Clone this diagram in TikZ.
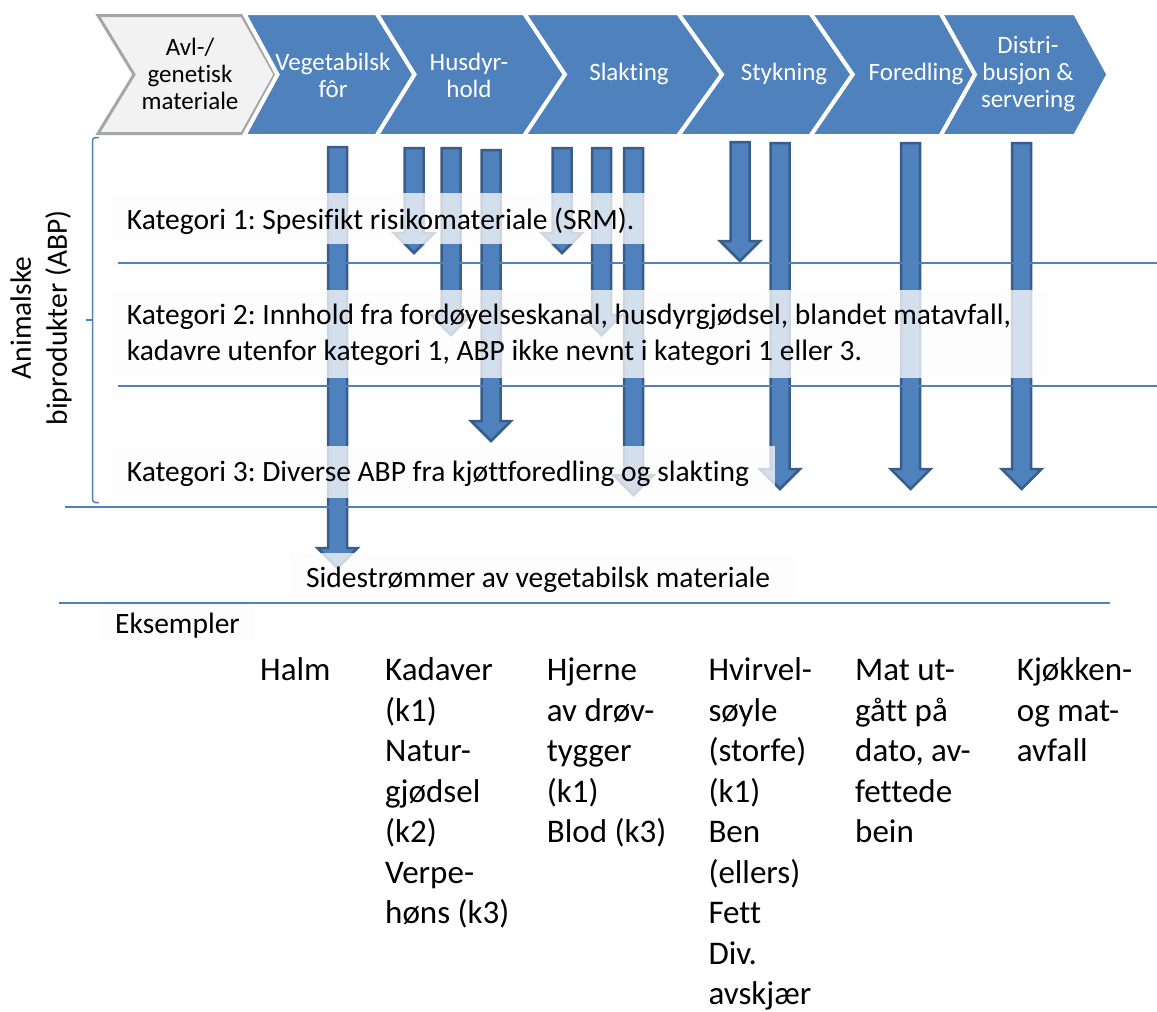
\documentclass[tikz,border=0pt]{standalone}
\usepackage{fontspec}
\setmainfont{Carlito}[Ligatures=NoCommon]
\frenchspacing
\definecolor{abpblue}{HTML}{4F81BD}
\definecolor{abpdark}{HTML}{385D8A}
\definecolor{chevgray}{HTML}{F2F2F2}
\definecolor{chevline}{HTML}{A6A6A6}
\definecolor{bandgray}{HTML}{FCFCFC}
\newcommand\chevfont{\fontsize{25}{27}\selectfont}
\newcommand\catfont{\fontsize{29.5}{36}\selectfont}
\newcommand\exfont{\fontsize{33}{40.5}\selectfont}
% blue chevron: left seam x, notch x, right seam x, tip x
\newcommand\bluechev[4]{%
  \path[chev] (#1,13) -- (#3,13) -- (#4,74.5) -- (#3,136) -- (#1,136) -- (#2,74.5) -- cycle;}
% block arrow pointing down: name, centre x, top y, tip y
\newcommand\bArrow[4]{%
  \path[barrow] (#2-9.5,#3) -- (#2+9.5,#3) -- (#2+9.5,#4-20) -- (#2+20,#4-20)
    -- (#2,#4) -- (#2-20,#4-20) -- (#2-9.5,#4-20) -- cycle;
  \coordinate (#1) at (#2,#4);}
\begin{document}
\begin{tikzpicture}[x=1pt,y=-1pt,
  chev/.style={fill=abpblue, draw=white, line width=4pt, line join=miter},
  grchev/.style={fill=chevgray, draw=chevline, line width=3pt, line join=miter},
  chevtxt/.style={text=white, font=\chevfont, align=center, inner sep=0},
  grtxt/.style={text=black, font=\chevfont, align=center, inner sep=0},
  barrow/.style={fill=abpblue, draw=abpdark, line width=2.5pt, line join=miter},
  band/.style={fill=bandgray, fill opacity=0.77, draw=none},
  sepline/.style={draw=abpblue, line width=2pt},
  brace/.style={draw=abpblue, line width=1.5pt, rounded corners=3pt},
  cattxt/.style={font=\catfont, anchor=base west, inner sep=0, align=left},
  extxt/.style={font=\exfont, anchor=base west, inner sep=0, align=left}]
\useasboundingbox (0,0) rectangle (1157,1012);

% value chain
\path[grchev] (98,15.5) -- (242,15.5) -- (275,74.5) -- (242,133.5) -- (98,133.5) -- (134,74.5) -- cycle;
\bluechev{244}{277.5}{376.5}{414.5}
\bluechev{376.5}{414.5}{524}{565}
\bluechev{524}{565}{678}{722}
\bluechev{678}{722}{810.4}{852.7}
\bluechev{810.4}{852.7}{940.5}{975}
\bluechev{940.5}{975}{1075}{1108.5}
\node[grtxt] (avl) at (190,74) {Avl-/\\genetisk\\materiale};
\node[chevtxt] (veg) at (333,75) {Vegetabilsk\\fôr};
\node[chevtxt] (hus) at (469,75) {Husdyr-\\hold};
\node[chevtxt] (sla) at (629,74) {Slakting};
\node[chevtxt] (sty) at (784,74) {Stykning};
\node[chevtxt] (for) at (916,74) {Foredling};
\node[chevtxt] (dis) at (1028,74) {Distri-\\busjon \&\\servering};

% by-product flows
\bArrow{t1}{337.5}{147}{568}
\bArrow{t2}{414}{148}{253}
\bArrow{t3}{451}{148}{335}
\bArrow{t4}{491}{150}{441}
\bArrow{t5}{562}{148}{253}
\bArrow{t6}{601.5}{148}{335}
\bArrow{t7}{633.5}{148}{495}
\bArrow{t8}{740}{142}{261}
\bArrow{t9}{780}{143}{489}
\bArrow{t10}{910.7}{143}{489}
\bArrow{t11}{1021.7}{143}{489}

% category separators
\draw[sepline] (118,263) -- (1157,263);
\draw[sepline] (118,386) -- (1157,386);
\draw[sepline] (65,507) -- (1157,507);
\draw[sepline] (58.7,602.5) -- (1110,602.5);

% bracket and its label
\draw[brace] (99,137.5) -- (92.5,137.5) -- (92.5,502.5) -- (99,502.5);
\draw[brace] (92.5,320) -- (86,320);
\node[font=\catfont, align=center, inner sep=0, rotate=90] (abp) at (41,318)
  {Animalske\\biprodukter (ABP)};

% text bands
\fill[band] (110.6,192.7) rectangle (658,244.3);
\fill[band] (110.6,290) rectangle (1049,377.7);
\fill[band] (110.6,446) rectangle (775,498);
\fill[band] (291,553) rectangle (795,597);
\fill[band] (99.5,603.5) rectangle (255,641);

% band texts (a multi-line node sits on the baseline of its last line)
\node[cattxt] (k1) at (126.7,229) {Kategori 1: Spesifikt risikomateriale (SRM).};
\node[cattxt] (k2) at (126.7,360) {Kategori 2: Innhold fra fordøyelseskanal, husdyrgjødsel, blandet matavfall,\\kadavre utenfor kategori 1, ABP ikke nevnt i kategori 1 eller 3.};
\node[cattxt] (k3) at (126.7,481.7) {Kategori 3: Diverse ABP fra kjøttforedling og slakting};
\node[cattxt] (side) at (306,587) {Sidestrømmer av vegetabilsk materiale};
\node[cattxt] (eks) at (115,633) {Eksempler};

% examples per stage
\node[extxt] (ex1) at (260,680.7) {Halm};
\node[extxt] (ex2) at (385,923.7) {Kadaver\\(k1)\\Natur-\\gjødsel\\(k2)\\Verpe-\\høns (k3)};
\node[extxt] (ex3) at (546.7,842.7) {Hjerne\\av drøv-\\tygger\\(k1)\\Blod (k3)};
\node[extxt] (ex4) at (708.3,1004.7) {Hvirvel-\\søyle\\(storfe)\\(k1)\\Ben\\(ellers)\\Fett\\Div.\\avskjær};
\node[extxt] (ex5) at (855,842.7) {Mat ut-\\gått på\\dato, av-\\fettede\\bein};
\node[extxt] (ex6) at (1016.7,761.7) {Kjøkken-\\og mat-\\avfall};
\end{tikzpicture}
\end{document}
